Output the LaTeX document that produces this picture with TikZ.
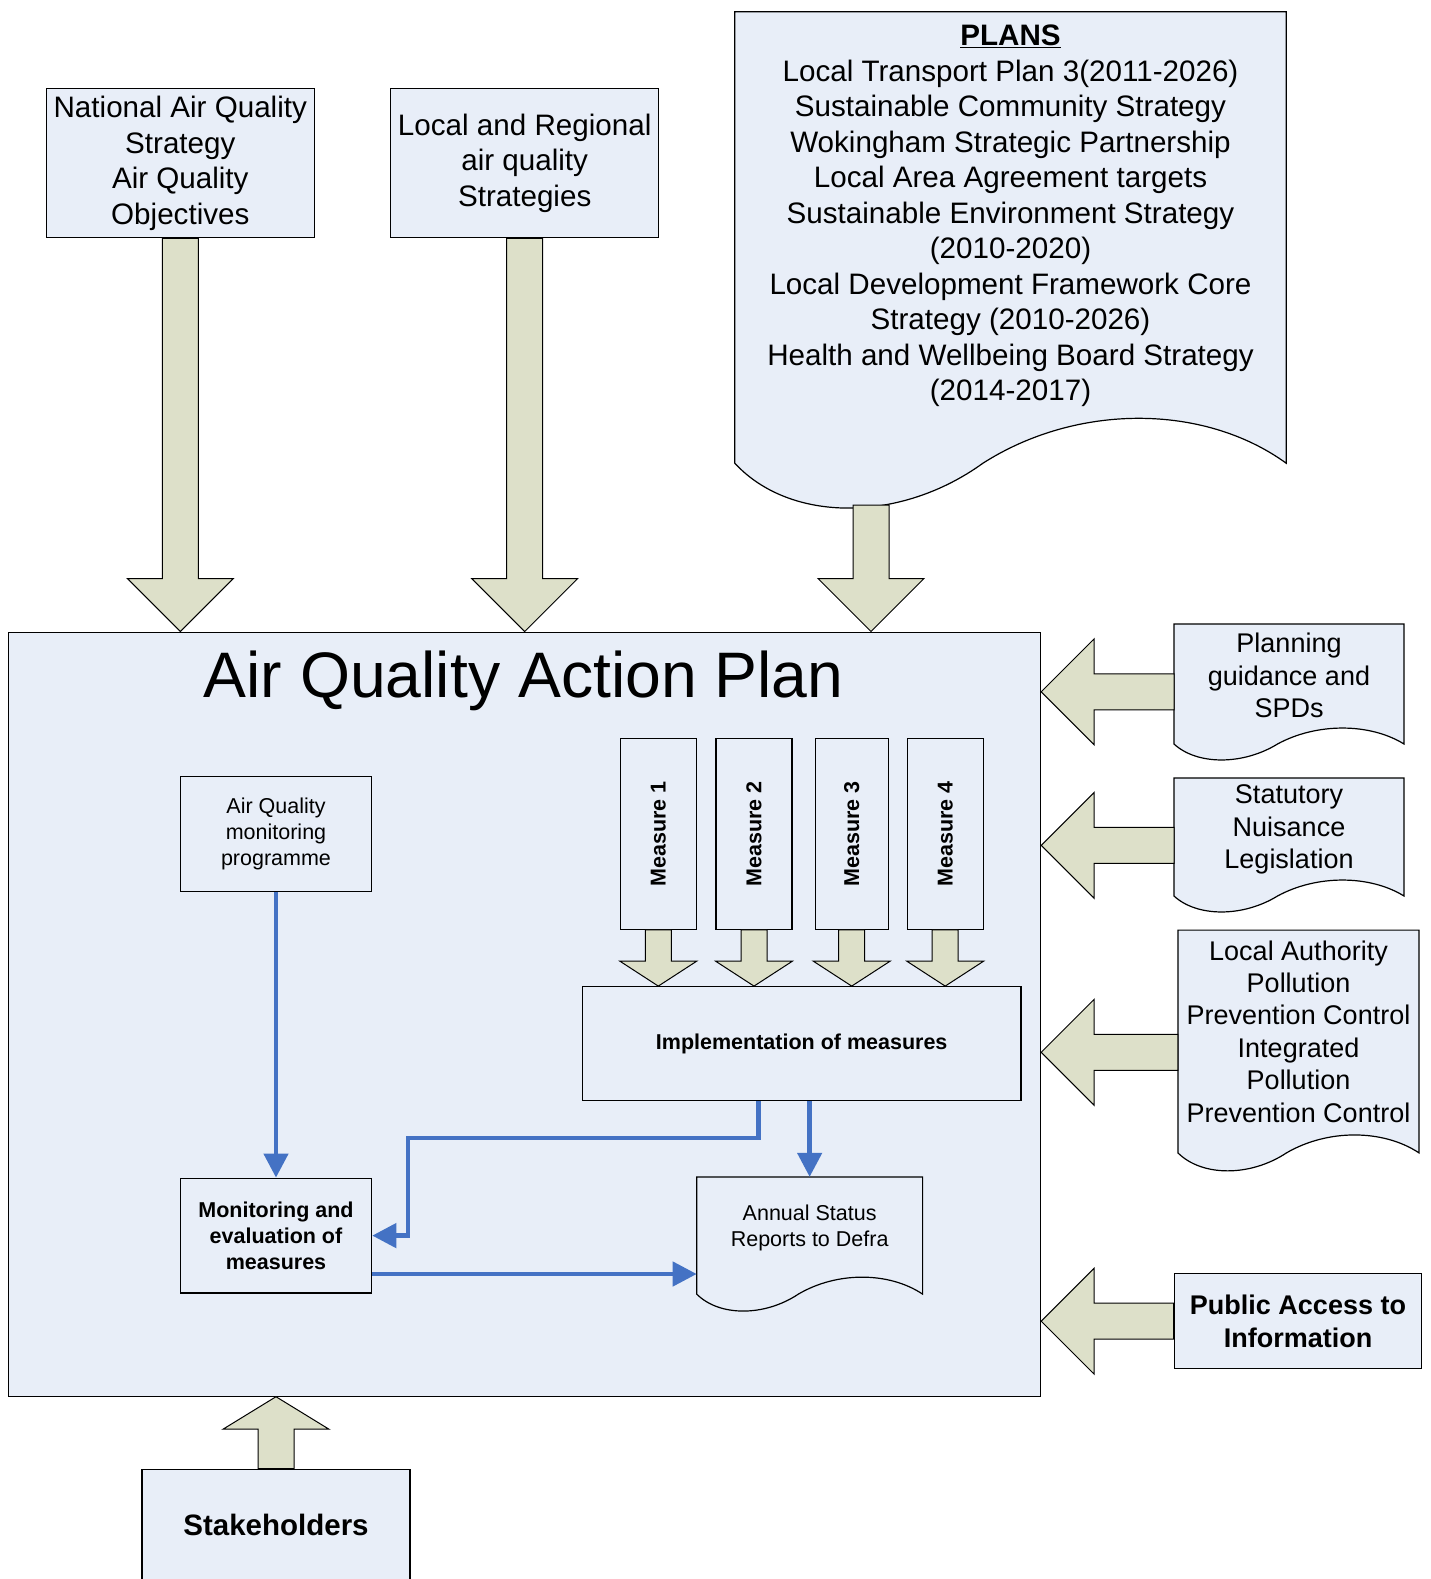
\documentclass[tikz,border=0pt]{standalone}
\usepackage{fontspec}
\setmainfont{Liberation Sans}
\usetikzlibrary{calc, arrows.meta}

\definecolor{boxblue}{RGB}{232,238,248}
\definecolor{khaki}{RGB}{221,224,201}
\definecolor{linkblue}{RGB}{68,114,196}

\newcommand{\titletxt}{\fontsize{64.3}{77}\selectfont}
\newcommand{\bigtxt}{\fontsize{29.6}{35.5}\selectfont}
\newcommand{\medtxt}{\fontsize{27}{32.4}\selectfont}
\newcommand{\stktxt}{\fontsize{29.5}{35}\selectfont}
\newcommand{\smalltxt}{\fontsize{21.5}{26.1}\selectfont}

\pgfdeclarelayer{back}
\pgfsetlayers{back,main}

\tikzset{
  box/.style={draw, fill=boxblue, line width=1.2pt, inner sep=0pt, align=center},
  doc/.style={inner sep=0pt, align=center},
  docbox/.style={draw, fill=boxblue, line width=1.2pt},
  fatarrow/.style={draw, fill=khaki, line width=1pt, line join=miter},
  link/.style={draw=linkblue, line width=4.5pt, -{Triangle[length=24pt,width=24pt]}}
}

% block arrow: from, to, half shaft, half head, head length
\newcommand{\blockarrow}[5]{%
  \coordinate (ba-b) at ($(#2)!#5pt!(#1)$);
  \draw[fatarrow] ($(#1)!#3pt!90:(#2)$) -- ($(ba-b)!#3pt!-90:(#1)$)
    -- ($(ba-b)!#4pt!-90:(#1)$) -- (#2) -- ($(ba-b)!#4pt!90:(#1)$)
    -- ($(ba-b)!#3pt!90:(#1)$) -- ($(#1)!#3pt!-90:(#2)$) -- cycle;}

% document outline behind a node: node, drop below node, wave height
\newcommand{\docwave}[3]{%
  \begin{pgfonlayer}{back}
  \draw[docbox] let \p1=(#1.south west), \p2=(#1.south east), \n1={\x2-\x1} in
    (#1.north west) -- (#1.north east) -- (\x2,{\y1-#2pt})
    .. controls ({\x2-0.15*\n1},{\y1-#2pt+1.33*#3pt}) and ({\x2-0.38*\n1},{\y1-#2pt+1.33*#3pt}) .. ({\x1+0.45*\n1},{\y1-#2pt})
    .. controls ({\x1+0.3*\n1},{\y1-#2pt-1.33*#3pt}) and ({\x1+0.1*\n1},{\y1-#2pt-1.33*#3pt}) .. (\x1,{\y1-#2pt})
    -- cycle;
  \end{pgfonlayer}}

\begin{document}
\begin{tikzpicture}[x=1pt, y=-1pt]
\useasboundingbox (0,0) rectangle (1430,1579);

% main frame
\begin{pgfonlayer}{back}
\node[box, minimum width=1032pt, minimum height=764pt, anchor=north west] (aqap) at (8,631.5) {};
\end{pgfonlayer}
\node[anchor=base, font=\titletxt] (title) at (523.6,697) {Air Quality Action Plan};

% inputs from above
\node[box, minimum width=268pt, minimum height=149pt, font=\bigtxt] (nat) at (180.3,163.2)
  {National Air Quality\\Strategy\\Air Quality\\Objectives};
\node[box, minimum width=268pt, minimum height=149pt, font=\bigtxt] (reg) at (524.7,163.2)
  {Local and Regional\\air quality\\Strategies};
\node[doc, minimum width=551pt, minimum height=408pt, font=\bigtxt] (plans) at (1010.5,216)
  {\underline{\textbf{PLANS}}\\Local Transport Plan 3(2011-2026)\\Sustainable Community Strategy\\
   Wokingham Strategic Partnership\\Local Area Agreement targets\\Sustainable Environment Strategy\\
   (2010-2020)\\Local Development Framework Core\\Strategy (2010-2026)\\
   Health and Wellbeing Board Strategy\\(2014-2017)};
\docwave{plans}{43}{45}
\coordinate (plans-out) at (871,505);

\blockarrow{nat.south}{nat.south |- aqap.north}{18}{53}{53}
\blockarrow{reg.south}{reg.south |- aqap.north}{18}{53}{53}
\blockarrow{plans-out}{plans-out |- aqap.north}{18}{53}{53}

% inputs from the right
\node[doc, minimum width=229.6pt, minimum height=102.6pt, font=\medtxt] (plan) at (1289,675.5)
  {Planning\\guidance and\\SPDs};
\docwave{plan}{17}{16}
\node[doc, minimum width=229.6pt, minimum height=102.6pt, font=\medtxt] (nuis) at (1289,829.5)
  {Statutory\\Nuisance\\Legislation};
\docwave{nuis}{15}{16}
\node[doc, minimum width=240.7pt, minimum height=202.4pt, font=\medtxt] (lapc) at (1298.5,1031.5)
  {Local Authority\\Pollution\\Prevention Control\\Integrated\\Pollution\\Prevention Control};
\docwave{lapc}{20}{18}
\node[box, minimum width=247.7pt, minimum height=94.7pt, font=\medtxt\bfseries] (pub) at (1298,1321.2)
  {Public Access to\\Information};

\foreach \d/\y in {plan/691.8, nuis/845.4, lapc/1052.3, pub/1321.2}{
  \blockarrow{\d.west |- 0,\y}{aqap.east |- 0,\y}{18}{53}{53}
}

% measures
\node[box, minimum width=438.7pt, minimum height=114pt, font=\smalltxt\bfseries] (impl) at (801.7,1043.7)
  {Implementation of measures};
\foreach \n/\x/\w in {1/658.3/76, 2/754/76, 3/851.7/73, 4/945.2/76}{
  \node[box, minimum width=\w pt, minimum height=191pt, font=\smalltxt\bfseries] (m\n) at (\x,833.8)
    {\rotatebox{90}{Measure \n}};
  \blockarrow{m\n.south}{m\n.south |- impl.north}{13}{38.5}{25}
}

% monitoring loop
\node[box, minimum width=191.3pt, minimum height=114.8pt, font=\smalltxt] (aqm) at (276,833.8)
  {Air Quality\\monitoring\\programme};
\node[box, minimum width=191.3pt, minimum height=114.8pt, font=\smalltxt\bfseries] (eval) at (276,1235.6)
  {Monitoring and\\evaluation of\\measures};
\node[doc, minimum width=225.5pt, minimum height=100.8pt, font=\smalltxt] (asr) at (809.65,1227.5)
  {Annual Status\\Reports to Defra};
\docwave{asr}{16}{17}

\draw[link] (aqm.south) -- (eval.north);
\draw[link] ([xshift=-43.4pt]impl.south) |- (407.8,1138) |- (eval.east);
\draw[link] (asr.north |- impl.south) -- (asr.north);
\coordinate (e1) at ($(eval.east)+(0,38.4)$);
\draw[link] (e1) -- (e1 -| asr.west);

% stakeholders
\node[box, minimum width=268pt, minimum height=111pt, font=\stktxt\bfseries] (stake) at (276,1524.7)
  {Stakeholders};
\blockarrow{stake.north}{stake.north |- aqap.south}{18}{53}{32.5}
\end{tikzpicture}
\end{document}
